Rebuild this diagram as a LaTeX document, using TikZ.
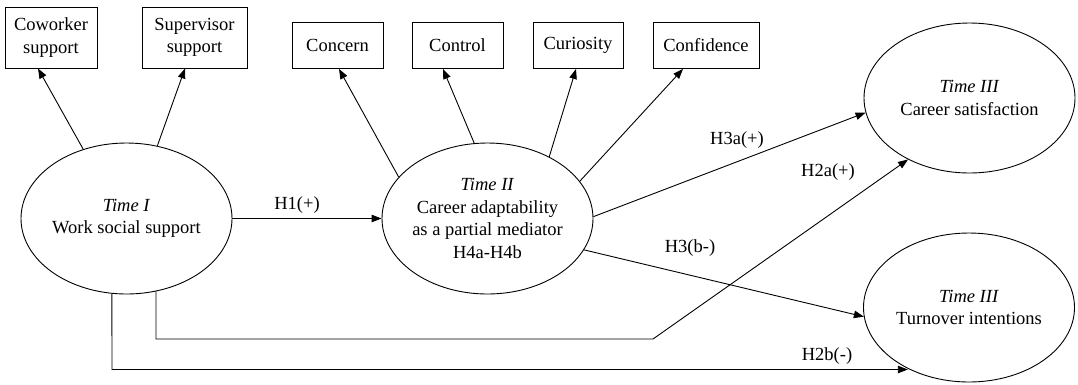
\documentclass[tikz,border=0pt]{standalone}
\usepackage{fontspec}
\setmainfont{Liberation Serif}
\usetikzlibrary{arrows.meta,shapes.geometric}
\begin{document}
\begin{tikzpicture}[x=1pt,y=-1pt,
  every node/.style={font=\fontsize{18.5}{22.5}\selectfont, align=center, inner sep=0pt},
  box/.style={draw, line width=0.9pt},
  ell/.style={draw, ellipse, line width=0.9pt, inner sep=-6pt, minimum width=211pt, minimum height=151pt},
  arr/.style={line width=0.9pt, -{Triangle[length=10pt,width=7.5pt]}},
  lbl/.style={}
]
\useasboundingbox (0,0) rectangle (1078,384);

% boxes
\node[box, minimum width=92pt, minimum height=61pt] (cow) at (51,37.5) {Coworker\\support};
\node[box, minimum width=105pt, minimum height=61pt] (sup) at (194.5,37.5) {Supervisor\\support};
\node[box, minimum width=91pt, minimum height=46pt] (con) at (337.5,45.5) {Concern};
\node[box, minimum width=91pt, minimum height=46pt] (ctl) at (457.5,45.5) {Control};
\node[box, minimum width=90pt, minimum height=46pt] (cur) at (578,45.5) {Curiosity};
\node[box, minimum width=106pt, minimum height=46pt] (cnf) at (706,45.5) {Confidence};

% ellipses
\node[ell] (t1) at (126.5,218.5) {\textit{Time I}\\Work social support};
\node[ell] (t2) at (487.5,218.5) {\textit{Time II}\\Career adaptability\\as a partial mediator\\H4a-H4b};
\node[ell, minimum height=150pt] (ts) at (969.5,98) {\textit{Time III}\\Career satisfaction};
\node[ell, minimum height=149pt] (tt) at (969,307.5) {\textit{Time III}\\Turnover intentions};

% indicator arrows
\draw[arr] (t1.122.3) -- ([xshift=-13pt]cow.south);
\draw[arr] (t1.67.2) -- ([xshift=-9.5pt]sup.south);
\draw[arr] (t2.155.9) -- ([xshift=1.5pt]con.south);
\draw[arr] (t2.100.9) -- ([xshift=-14.5pt]ctl.south);
\draw[arr] (t2.45.9) -- ([xshift=-2pt]cur.south);
\draw[arr] (t2.22.8) -- ([xshift=-23pt]cnf.south);

% structural paths
\draw[arr] (t1.east) -- (t2.west);
\node[lbl] (lh1) at (297,205) {H1(+)};

\draw[arr] (t2.1) -- (ts.188.5);
\node[lbl] (lh3a) at (737,140) {H3a(+)};

\draw[arr] (t2.342.6) -- (tt.185.1);
\node[lbl] (lh3b) at (690,248) {H3(b-)};

\coordinate (bend) at (653,339);
\draw[arr] (t1.292.9) |- (bend) -- (ts.225);
\node[lbl] (lh2a) at (828,172) {H2a(+)};

\coordinate (low) at (112,369.5);
\draw[arr] (t1.259) -- (low) -- (tt.225.7 |- low);
\node[lbl] (lh2b) at (827,356) {H2b(-)};
\end{tikzpicture}
\end{document}
